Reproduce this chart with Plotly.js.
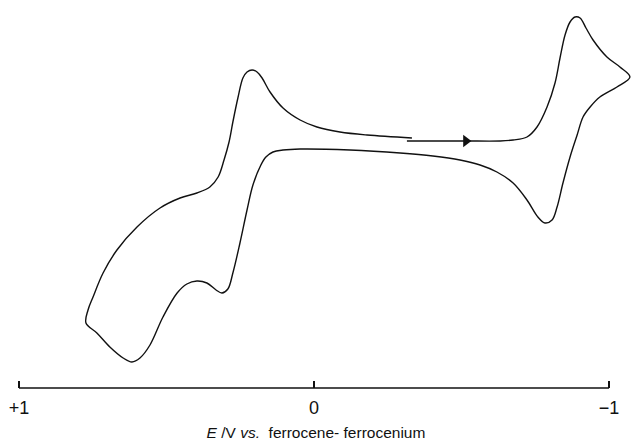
<!DOCTYPE html>
<html>
<head>
<meta charset="utf-8">
<script src="https://cdn.plot.ly/plotly-3.0.1.min.js"></script>
<style>html,body{margin:0;padding:0;background:#fff;}#chart{width:632px;height:448px;}</style>
</head>
<body>
<div id="chart"></div>
<script>
// Potential E / V vs. Fc/Fc+ and current (arbitrary units), in scan order
const potential = [
  -0.315, -0.427, -0.515, -0.631, -0.675, -0.722, -0.756, -0.790, -0.817, -0.834,
  -0.851, -0.868, -0.885, -0.902, -0.922, -0.946, -0.993, -1.037, -1.071,
  -1.027, -0.969, -0.936, -0.912, -0.892, -0.868, -0.844, -0.824, -0.807, -0.783,
  -0.759, -0.722, -0.675, -0.620, -0.563, -0.495, -0.403, -0.292, -0.122, 0.047,
  0.105, 0.139, 0.163, 0.180, 0.207, 0.227, 0.251, 0.275, 0.292, 0.312,
  0.332, 0.363, 0.397, 0.431, 0.464, 0.512, 0.556, 0.590, 0.617, 0.647,
  0.692, 0.736, 0.773,
  0.766, 0.749, 0.715, 0.668, 0.600, 0.522, 0.454, 0.397, 0.353, 0.325,
  0.305, 0.288, 0.275, 0.258, 0.241, 0.227, 0.210, 0.193, 0.176, 0.149,
  0.105, 0.047, -0.010, -0.088, -0.180, -0.332
];
const current = [
  0, 0, 0, 0, 0.1, 0.4, 1.4, 3.4, 5.8, 8.3,
  10.6, 11.9, 12.4, 12.3, 11.3, 10.1, 8.4, 7.4, 6.4,
  5.4, 4.4, 3.4, 2.4, 0.6, -1.6, -4.2, -6.6, -7.9, -8.2,
  -7.6, -5.9, -4.2, -3.1, -2.4, -1.9, -1.5, -1.2, -0.9, -0.8,
  -0.9, -1.1, -1.6, -2.4, -4.4, -6.9, -10.2, -13.2, -14.8, -15.2,
  -14.9, -14.2, -14.0, -14.3, -15.2, -17.6, -20.4, -21.7, -22.1, -21.7,
  -20.6, -19.2, -18.2,
  -16.9, -15.6, -13.2, -10.9, -8.6, -6.7, -5.7, -5.2, -4.6, -3.6,
  -1.9, -0.1, 1.9, 4.3, 6.3, 6.9, 7.1, 6.9, 6.3, 4.9,
  3.3, 2.1, 1.4, 0.9, 0.6, 0.3
];
const arrowIndex = 2; // scan-direction arrow placed on this data point
const tickValues = [1, 0, -1];
const tickLabels = ['+1', '0', '\u22121'];
const axisStart = 1, axisEnd = -1;

const traces = [
  {
    x: potential, y: current, type: 'scatter', mode: 'lines',
    line: {color: '#111', width: 1.4, shape: 'spline', smoothing: 1},
    hoverinfo: 'skip'
  },
  {
    x: [potential[arrowIndex]], y: [current[arrowIndex]], type: 'scatter', mode: 'markers',
    marker: {symbol: 'triangle-right', size: 11, color: '#111'},
    hoverinfo: 'skip'
  }
];

const layout = {
  width: 632, height: 448,
  margin: {l: 0, r: 0, t: 10, b: 60},
  paper_bgcolor: '#fff', plot_bgcolor: '#fff',
  showlegend: false,
  font: {family: '"Liberation Sans", Arial, sans-serif', color: '#111', size: 17},
  xaxis: {
    range: [1.0644, -1.078],
    showgrid: false, zeroline: false, showline: false,
    ticks: 'inside', ticklen: 7, tickwidth: 1.3, tickcolor: '#111',
    tickvals: tickValues, ticktext: tickLabels,
    tickfont: {size: 18},
    ticklabelstandoff: 7,
    title: {
      text: '<i>E</i> /V <i>vs.</i>  ferrocene- ferrocenium',
      font: {size: 15.5},
      standoff: 10
    }
  },
  yaxis: {
    range: [-24.7, 13.1], visible: false, showgrid: false, zeroline: false
  },
  shapes: [
    {type: 'line', xref: 'x', yref: 'paper', x0: axisStart, x1: axisEnd, y0: 0, y1: 0,
     line: {color: '#111', width: 1.3}}
  ]
};

Plotly.newPlot('chart', traces, layout, {staticPlot: true, displayModeBar: false});
</script>
</body>
</html>
